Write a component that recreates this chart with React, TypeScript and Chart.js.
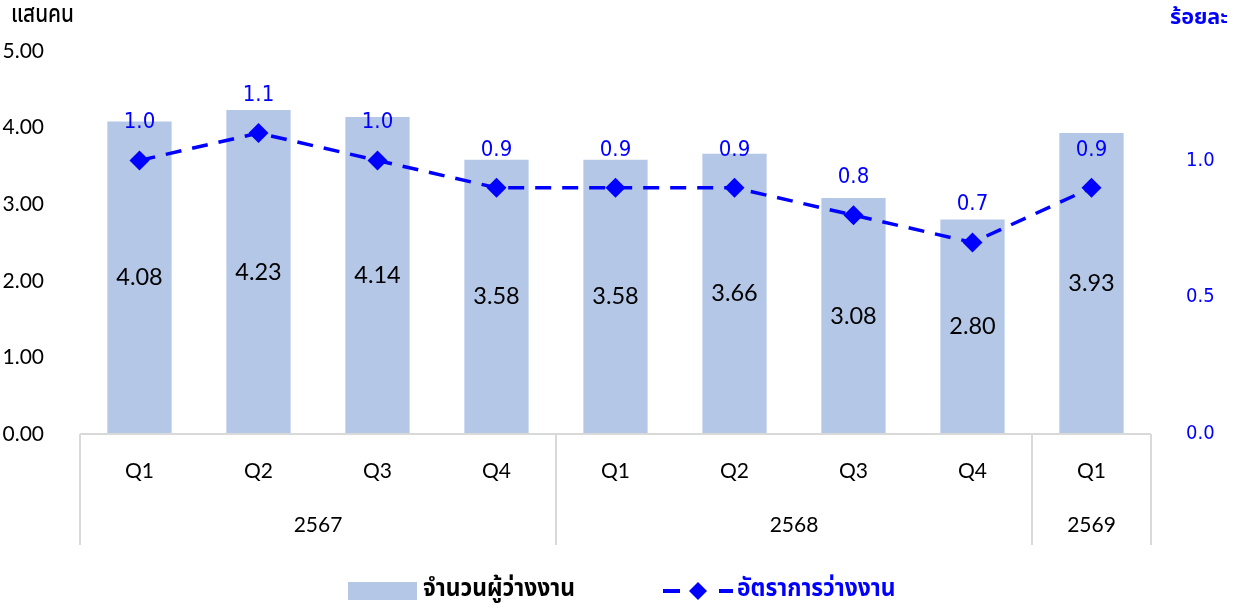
import React, { useEffect, useRef } from "react";
import { Chart, registerables } from "chart.js";

Chart.register(...registerables);

const quarters = ["Q1", "Q2", "Q3", "Q4", "Q1", "Q2", "Q3", "Q4", "Q1"];
const years = ["2567", "2568", "2569"];
const yearSpans = [4, 4, 1];
const unemployed = [4.08, 4.23, 4.14, 3.58, 3.58, 3.66, 3.08, 2.8, 3.93];
const rate = [1.0, 1.1, 1.0, 0.9, 0.9, 0.9, 0.8, 0.7, 0.9];
const leftTicks = [0, 1, 2, 3, 4, 5];
const rightTicks = [0, 0.5, 1.0];
const barLabel = "จำนวนผู้ว่างงาน";
const lineLabel = "อัตราการว่างงาน";
const leftTitle = "แสนคน";
const rightTitle = "ร้อยละ";

const BAR_COLOR = "#B4C7E7";
const BLUE = "#0000FF";
const GRID = "#D9D9D9";
const NUM_FONT = "Lato, 'Liberation Sans', sans-serif";
const BLUE_FONT = "'DejaVu Sans Condensed', 'DejaVu Sans', Tahoma, sans-serif";
const THAI_FONT = "'Noto Sans Thai', Tahoma, 'DejaVu Sans', 'Noto Sans', sans-serif";

const customPlugin = {
  id: "custom",
  afterDatasetsDraw(chart: any) {
    const ctx = chart.ctx;
    const bm = chart.getDatasetMeta(0);
    const lm = chart.getDatasetMeta(1);
    ctx.save();
    ctx.textAlign = "center";
    ctx.textBaseline = "middle";
    ctx.fillStyle = "#000";
    ctx.font = `23.5px ${NUM_FONT}`;
    bm.data.forEach((el: any, i: number) => {
      const y = (el.y + el.base) / 2;
      ctx.fillText(unemployed[i].toFixed(2), el.x, y);
    });
    ctx.fillStyle = BLUE;
    ctx.font = `22px ${BLUE_FONT}`;
    lm.data.forEach((el: any, i: number) => {
      ctx.fillText(rate[i].toFixed(1), el.x, el.y - 38);
    });
    ctx.restore();
  },
  afterDraw(chart: any) {
    const ctx = chart.ctx;
    const area = chart.chartArea;
    const xs = chart.scales.x;
    ctx.save();
    ctx.strokeStyle = GRID;
    ctx.lineWidth = 2;
    ctx.beginPath();
    ctx.moveTo(area.left, area.bottom);
    ctx.lineTo(area.right, area.bottom);
    ctx.stroke();
    const step = (area.right - area.left) / quarters.length;
    let idx = 0;
    const bounds = [0];
    yearSpans.forEach((s) => {
      idx += s;
      bounds.push(idx);
    });
    ctx.beginPath();
    bounds.forEach((b) => {
      const x = Math.round(area.left + b * step);
      ctx.moveTo(x, area.bottom);
      ctx.lineTo(x, area.bottom + 111);
    });
    ctx.stroke();
    ctx.fillStyle = "#000";
    ctx.textAlign = "center";
    ctx.textBaseline = "middle";
    ctx.font = `21px ${NUM_FONT}`;
    quarters.forEach((q, i) => {
      ctx.fillText(q, xs.getPixelForValue(i), area.bottom + 37);
    });
    years.forEach((y, i) => {
      const x = area.left + ((bounds[i] + bounds[i + 1]) / 2) * step;
      ctx.fillText(y, x, area.bottom + 91);
    });
    ctx.textAlign = "left";
    ctx.font = `500 25px ${THAI_FONT}`;
    ctx.fillText(leftTitle, 11, 17, 63);
    ctx.fillStyle = BLUE;
    ctx.font = `bold 22px ${THAI_FONT}`;
    ctx.fillText(rightTitle, 1170, 20, 58);
    const ly = 591;
    ctx.fillStyle = BAR_COLOR;
    ctx.fillRect(348, 582, 69, 18);
    ctx.fillStyle = "#000";
    ctx.font = `bold 24px ${THAI_FONT}`;
    ctx.fillText(barLabel, 423, ly, 152);
    ctx.strokeStyle = BLUE;
    ctx.lineWidth = 4;
    ctx.beginPath();
    ctx.moveTo(663, ly);
    ctx.lineTo(680, ly);
    ctx.moveTo(719, ly);
    ctx.lineTo(733, ly);
    ctx.stroke();
    ctx.fillStyle = BLUE;
    ctx.beginPath();
    ctx.moveTo(698, ly - 9);
    ctx.lineTo(707, ly);
    ctx.lineTo(698, ly + 9);
    ctx.lineTo(689, ly);
    ctx.closePath();
    ctx.fill();
    ctx.save();
    ctx.translate(737, ly);
    ctx.scale(0.95, 1);
    ctx.fillText(lineLabel, 0, 0);
    ctx.restore();
    ctx.restore();
  },
};

export default function App() {
  const ref = useRef<HTMLCanvasElement>(null);
  useEffect(() => {
    if (!ref.current) return;
    const chart = new Chart(ref.current, {
      type: "bar",
      data: {
        labels: quarters.map((q, i) => q + "_" + i),
        datasets: [
          {
            type: "bar",
            label: barLabel,
            data: unemployed,
            backgroundColor: BAR_COLOR,
            categoryPercentage: 1,
            barPercentage: 0.54,
            yAxisID: "y",
            order: 1,
          },
          {
            type: "line",
            label: lineLabel,
            data: rate,
            borderColor: BLUE,
            backgroundColor: BLUE,
            borderWidth: 3.5,
            borderDash: [16, 11],
            pointStyle: "rectRot",
            pointRadius: 10,
            pointBackgroundColor: BLUE,
            pointBorderColor: BLUE,
            pointBorderWidth: 0,
            yAxisID: "y1",
            order: 0,
          },
        ],
      } as any,
      options: {
        animation: false,
        responsive: true,
        maintainAspectRatio: false,
        layout: { padding: { top: 51, bottom: 173, left: 0, right: 0 } },
        plugins: { legend: { display: false }, tooltip: { enabled: false } },
        scales: {
          x: { display: false, offset: true },
          y: {
            position: "left",
            min: 0,
            max: 5,
            afterBuildTicks: (s: any) => {
              s.ticks = leftTicks.map((v) => ({ value: v }));
            },
            afterFit: (s: any) => {
              s.width = 80;
            },
            grid: { display: false },
            border: { display: false },
            ticks: {
              padding: 28,
              color: "#000",
              font: { family: NUM_FONT, size: 21 },
              callback: (v: any) => Number(v).toFixed(2),
            },
          },
          y1: {
            position: "right",
            min: 0,
            max: 1.4,
            afterBuildTicks: (s: any) => {
              s.ticks = rightTicks.map((v) => ({ value: v }));
            },
            afterFit: (s: any) => {
              s.width = 88;
            },
            grid: { display: false },
            border: { display: false },
            ticks: {
              padding: 27,
              color: BLUE,
              font: { family: BLUE_FONT, size: 20 },
              callback: (v: any) => Number(v).toFixed(1),
            },
          },
        },
      } as any,
      plugins: [customPlugin],
    });
    return () => chart.destroy();
  }, []);
  return (
    <div style={{ position: "fixed", left: 0, top: 0, width: 1239, height: 607, background: "#fff" }}>
      <canvas ref={ref} />
    </div>
  );
}
